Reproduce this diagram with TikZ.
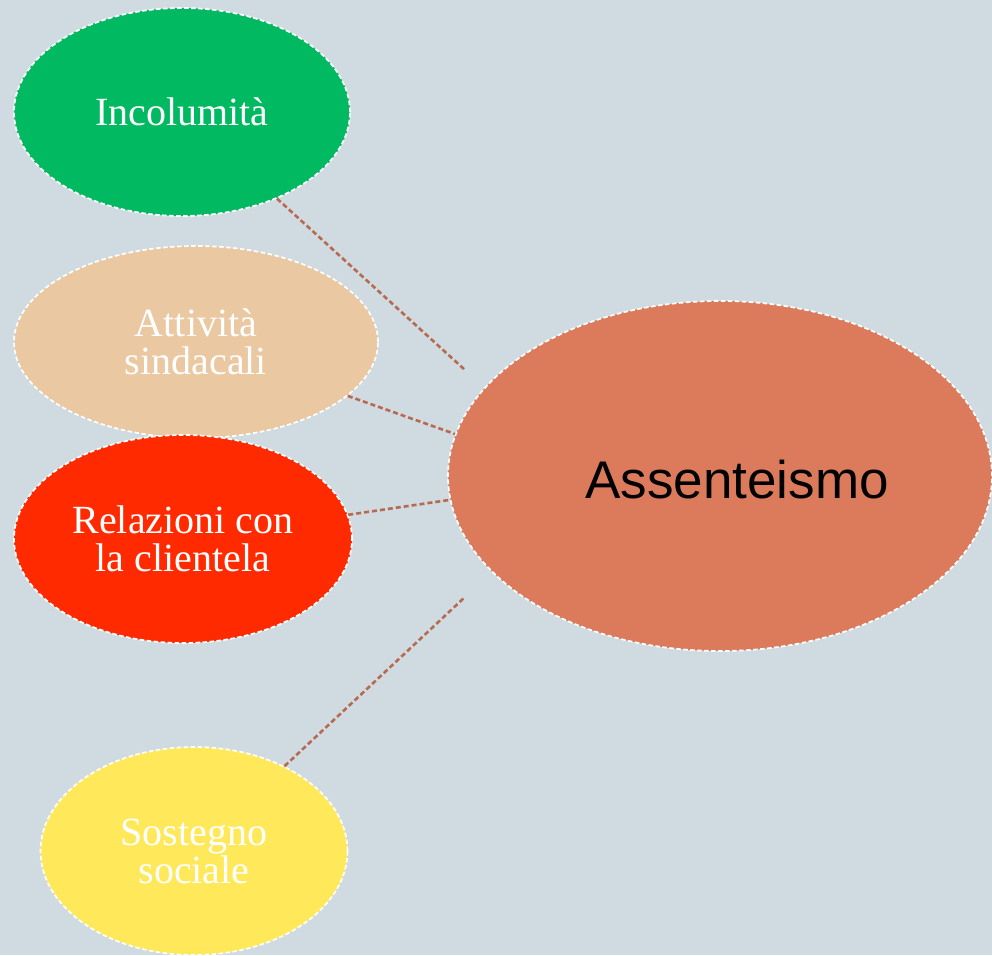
\documentclass[tikz,border=0pt]{standalone}
\usepackage{fontspec}
\setmainfont{Liberation Serif}
\setsansfont{Liberation Sans}
\usetikzlibrary{shapes.geometric}
\definecolor{bg}{HTML}{CFDBE0}
\definecolor{cgreen}{HTML}{00B960}
\definecolor{cpeach}{HTML}{EAC8A2}
\definecolor{cred}{HTML}{FF2A00}
\definecolor{cyellow}{HTML}{FFE95A}
\definecolor{csalmon}{HTML}{DC7A5C}
\definecolor{cline}{HTML}{B86A50}
\tikzset{
  bubble/.style={ellipse, draw=white, line width=1.7pt, dash pattern=on 4.5pt off 2.5pt, inner sep=0pt, text=white, align=center, font=\fontsize{40}{38}\selectfont},
  link/.style={draw=cline, line width=2.6pt, dash pattern=on 5pt off 3pt}
}
\begin{document}
\begin{tikzpicture}[x=1pt,y=-1pt]
\useasboundingbox (0,0) rectangle (992,955);
\fill[bg] (0,0) rectangle (992,955);
\begin{scope}
\clip (0,0) rectangle (992,955);
\node[bubble, fill=csalmon, minimum width=544pt, minimum height=350pt] (ass) at (720,476) {};
\node[text=black, font=\sffamily\fontsize{53}{60}\selectfont, inner sep=0pt] (asst) at (737,480) {Assenteismo};
\end{scope}
\node[bubble, fill=cgreen, minimum width=336pt, minimum height=208pt] (inc) at (182,112) {Incolumità};
\node[bubble, fill=cpeach, minimum width=364pt, minimum height=192pt] (att) at (196,342) {Attività\\sindacali};
\node[bubble, fill=cred, minimum width=338pt, minimum height=208pt] (rel) at (183,539) {Relazioni con\\la clientela};
\node[bubble, fill=cyellow, minimum width=307pt, minimum height=208pt] (sos) at (194,851) {Sostegno\\sociale};
\coordinate (c1) at (465,370);
\coordinate (c2) at (455,434);
\coordinate (c3) at (449,500);
\coordinate (c4) at (465,597);
\draw[link] (inc) -- (c1);
\draw[link] (att) -- (c2);
\draw[link] (rel) -- (c3);
\draw[link] (sos) -- (c4);
\end{tikzpicture}
\end{document}
